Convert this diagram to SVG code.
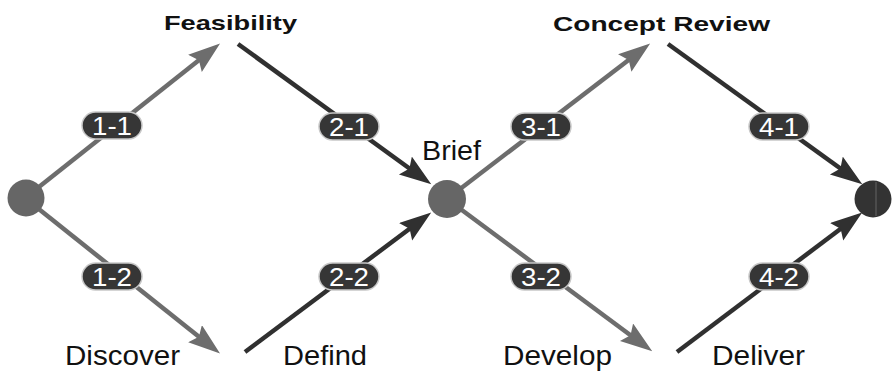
<svg xmlns="http://www.w3.org/2000/svg" width="895" height="372" viewBox="0 0 895 372">
<style>
.ln{stroke-width:4.5;fill:none;stroke-linecap:butt}
.light{stroke:#6d6d6d}
.dark{stroke:#303030}
.pill{fill:#363636;stroke:#c8c8c8;stroke-width:1.5}
.pt{font-family:"Liberation Sans",Arial,sans-serif;font-size:26px;fill:#fff;text-anchor:middle}
.lab{font-family:"Liberation Sans",Arial,sans-serif;font-size:27px;fill:#111}
.bold{font-family:"Liberation Sans",Arial,sans-serif;font-size:21px;font-weight:bold;fill:#111}
</style>
<defs>
<marker id="ahL" markerUnits="userSpaceOnUse" markerWidth="34" markerHeight="24" refX="23" refY="11" orient="auto">
<path d="M0,0 L32,11 L0,22 L5,11 z" fill="#6d6d6d"/>
</marker>
<marker id="ahD" markerUnits="userSpaceOnUse" markerWidth="34" markerHeight="24" refX="23" refY="11" orient="auto">
<path d="M0,0 L32,11 L0,22 L5,11 z" fill="#303030"/>
</marker>
</defs>
<rect width="895" height="372" fill="#fff"/>
<g id="connectors">
<line class="ln light" x1="25" y1="198" x2="213" y2="49" marker-end="url(#ahL)"/>
<line class="ln light" x1="25" y1="198" x2="213" y2="348" marker-end="url(#ahL)"/>
<line class="ln dark" x1="238" y1="44" x2="424" y2="179" marker-end="url(#ahD)"/>
<line class="ln dark" x1="245" y1="352" x2="424" y2="218" marker-end="url(#ahD)"/>
<line class="ln light" x1="447" y1="199" x2="643" y2="49" marker-end="url(#ahL)"/>
<line class="ln light" x1="447" y1="199" x2="645" y2="346" marker-end="url(#ahL)"/>
<line class="ln dark" x1="668" y1="44" x2="855" y2="179" marker-end="url(#ahD)"/>
<line class="ln dark" x1="677" y1="352" x2="855" y2="218" marker-end="url(#ahD)"/>
</g>
<g id="edge-labels">
<g id="l11"><rect class="pill" x="82" y="112" width="60" height="27" rx="13.5"/><text class="pt" x="112" y="135" textLength="40" lengthAdjust="spacingAndGlyphs">1-1</text></g>
<g id="l12"><rect class="pill" x="82" y="263" width="60" height="27" rx="13.5"/><text class="pt" x="112" y="286" textLength="40" lengthAdjust="spacingAndGlyphs">1-2</text></g>
<g id="l21"><rect class="pill" x="319" y="113" width="60" height="27" rx="13.5"/><text class="pt" x="349" y="136" textLength="40" lengthAdjust="spacingAndGlyphs">2-1</text></g>
<g id="l22"><rect class="pill" x="319" y="263" width="60" height="27" rx="13.5"/><text class="pt" x="349" y="286" textLength="40" lengthAdjust="spacingAndGlyphs">2-2</text></g>
<g id="l31"><rect class="pill" x="511" y="113" width="60" height="27" rx="13.5"/><text class="pt" x="541" y="136" textLength="40" lengthAdjust="spacingAndGlyphs">3-1</text></g>
<g id="l32"><rect class="pill" x="511" y="263" width="60" height="27" rx="13.5"/><text class="pt" x="541" y="286" textLength="40" lengthAdjust="spacingAndGlyphs">3-2</text></g>
<g id="l41"><rect class="pill" x="749" y="113" width="60" height="27" rx="13.5"/><text class="pt" x="779" y="136" textLength="40" lengthAdjust="spacingAndGlyphs">4-1</text></g>
<g id="l42"><rect class="pill" x="749" y="263" width="60" height="27" rx="13.5"/><text class="pt" x="779" y="286" textLength="40" lengthAdjust="spacingAndGlyphs">4-2</text></g>
</g>
<g id="start"><circle cx="26" cy="198" r="18.5" fill="#666"/></g>
<g id="brief"><circle cx="447" cy="199" r="19" fill="#666"/><text class="lab" x="422" y="160" textLength="59" lengthAdjust="spacingAndGlyphs">Brief</text></g>
<g id="end"><circle cx="873" cy="199" r="18.5" fill="#333"/><line x1="876" y1="182" x2="876" y2="216" stroke="#555" stroke-width="1.5"/></g>
<g id="feasibility"><text class="bold" x="164" y="30" textLength="133" lengthAdjust="spacingAndGlyphs">Feasibility</text></g>
<g id="concept-review"><text class="bold" x="553" y="31" textLength="217" lengthAdjust="spacingAndGlyphs">Concept Review</text></g>
<g id="discover"><text class="lab" x="65" y="365" textLength="115" lengthAdjust="spacingAndGlyphs">Discover</text></g>
<g id="defind"><text class="lab" x="283" y="365" textLength="84" lengthAdjust="spacingAndGlyphs">Defind</text></g>
<g id="develop"><text class="lab" x="503" y="365" textLength="109" lengthAdjust="spacingAndGlyphs">Develop</text></g>
<g id="deliver"><text class="lab" x="712" y="365" textLength="93" lengthAdjust="spacingAndGlyphs">Deliver</text></g>
</svg>
